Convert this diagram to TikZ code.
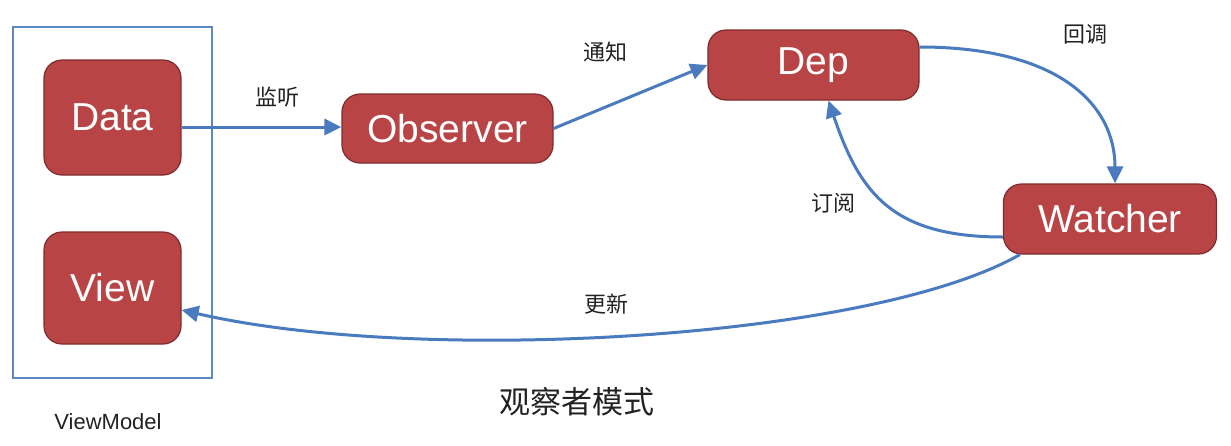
\documentclass[tikz,border=0pt]{standalone}
\usepackage{fontspec}
\setmainfont{Liberation Sans}
\newfontfamily\cjk{Noto Sans CJK SC}
\usetikzlibrary{arrows.meta}
\definecolor{boxred}{HTML}{B84446}
\definecolor{boxedge}{HTML}{7E2B2D}
\definecolor{arrblue}{HTML}{4A7BBF}
\definecolor{frameblue}{HTML}{5B89C6}
\definecolor{labelgray}{HTML}{222222}
\tikzset{
  redbox/.style={draw=boxedge, fill=boxred, line width=1.2pt, rounded corners=18pt,
    inner sep=0pt, text=white, font=\fontsize{39}{44}\selectfont},
  conn/.style={draw=arrblue, line width=3pt, -{Triangle[length=17pt,width=16pt]}},
  lbl/.style={text=labelgray, font=\cjk\fontsize{22}{26}\selectfont, inner sep=0pt},
}
\begin{document}
\begin{tikzpicture}[x=1pt,y=-1pt]
\useasboundingbox (0,0) rectangle (1231,445);
\node[draw=frameblue, line width=1.5pt, minimum width=199pt, minimum height=351pt, inner sep=0pt] (vm) at (112.5,202.5) {};
\node[redbox, minimum width=137pt, minimum height=115pt] (Data) at (112.5,117.5) {Data};
\node[redbox, minimum width=137pt, minimum height=112pt] (View) at (112.5,288) {View};
\node[redbox, minimum width=211pt, minimum height=69pt] (Observer) at (447.5,128.5) {Observer};
\node[redbox, minimum width=211pt, minimum height=70pt] (Dep) at (813.5,65) {Dep};
\node[redbox, minimum width=213pt, minimum height=70pt] (Watcher) at (1110,219) {Watcher};

\node[lbl] (l1) at (277,97) {监听};
\node[lbl] (l2) at (605,52) {通知};
\node[lbl] (l3) at (1085,34) {回调};
\node[lbl] (l4) at (833,203) {订阅};
\node[lbl] (l5) at (606,304) {更新};
\node[lbl, font=\cjk\fontsize{31}{36}\selectfont] (title) at (577,402) {观察者模式};
\node[text=labelgray, font=\fontsize{22}{26}\selectfont, inner sep=0pt] (vmlabel) at (108,422) {ViewModel};

\draw[conn] (Data.east |- 0,127) -- (Observer.west |- 0,127);
\draw[conn] (Observer.east) -- (Dep.west);
\draw[conn] ([yshift=18pt]Dep.east) .. controls (1058,47) and (1115,104) .. ([xshift=5pt]Watcher.north);
\draw[conn] ([yshift=-18pt]Watcher.west) .. controls (893,237) and (860,194) .. ([xshift=15pt]Dep.south);
\draw[conn] ([xshift=17pt]Watcher.south west) .. controls (870,340) and (420,365) .. ([yshift=-22pt]View.east);
\end{tikzpicture}
\end{document}
